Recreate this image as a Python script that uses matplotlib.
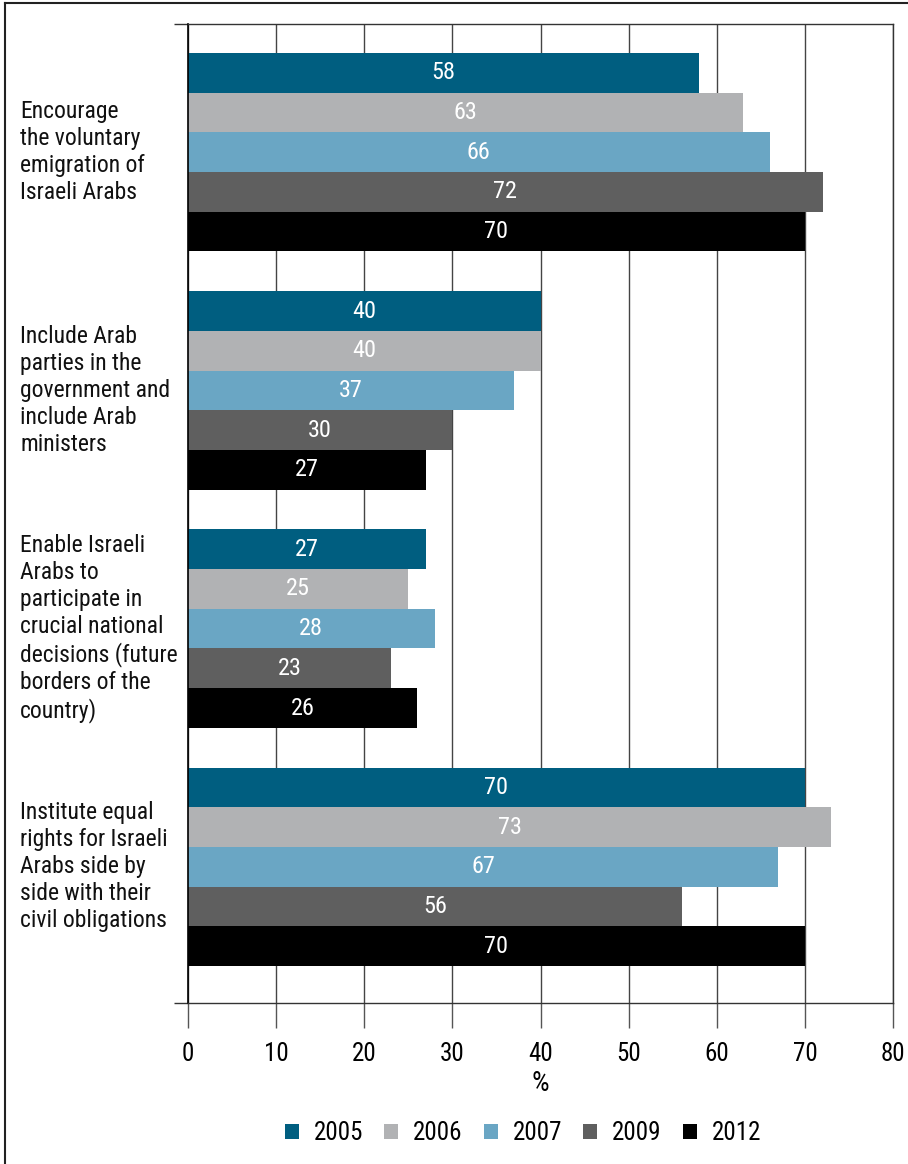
import matplotlib
matplotlib.use("Agg")
import matplotlib.pyplot as plt
import matplotlib.transforms as mtransforms
from matplotlib.lines import Line2D
from matplotlib.patches import Patch

plt.rcParams["font.family"] = ["Roboto Condensed", "Liberation Sans Narrow",
                               "Liberation Sans", "DejaVu Sans"]
plt.rcParams["font.stretch"] = "condensed"

# Data
categories = [
    "Encourage\nthe voluntary\nemigration of\nIsraeli Arabs",
    "Include Arab\nparties in the\ngovernment and\ninclude Arab\nministers",
    "Enable Israeli\nArabs to\nparticipate in\ncrucial national\ndecisions (future\nborders of the\ncountry)",
    "Institute equal\nrights for Israeli\nArabs side by\nside with their\ncivil obligations",
]
years = ["2005", "2006", "2007", "2009", "2012"]
v2005 = [58, 40, 27, 70]
v2006 = [63, 40, 25, 73]
v2007 = [66, 37, 28, 67]
v2009 = [72, 30, 23, 56]
v2012 = [70, 27, 26, 70]
series = [v2005, v2006, v2007, v2009, v2012]
colors = ["#005e80", "#b1b2b4", "#6aa6c4", "#5f5f5f", "#000000"]

W, H = 908, 1164
fig = plt.figure(figsize=(W / 100, H / 100), dpi=100)
ax = fig.add_axes([188 / W, 1 - 1003 / H, (893 - 188) / W, (1003 - 24) / H])

group_step = len(years) + 1
for s, (vals, col) in enumerate(zip(series, colors)):
    ys = [g * group_step + s + 0.5 for g in range(len(categories))]
    ax.barh(ys, vals, height=1.0, color=col, zorder=2)
    for y, v in zip(ys, vals):
        ax.text(v / 2, y, str(v), ha="center", va="center",
                color="white", fontsize=17.5, zorder=3)

n_end = (len(categories) - 1) * group_step + len(years)
ax.set_ylim(n_end + 0.93, -0.73)
ax.set_xlim(0, 80)
ax.set_xticks(range(0, 81, 10))
ax.set_yticks([n_end + 0.93, -0.73])
ax.set_yticklabels([])
ax.tick_params(axis="y", length=10, width=1, color="#333333")
ax.tick_params(axis="x", length=18, width=1, color="#555555",
               labelsize=18, pad=10)
ax.grid(axis="x", color="#444444", linewidth=1, zorder=0)
ax.set_axisbelow(True)
for side in ["top", "bottom", "right"]:
    ax.spines[side].set_color("#333333")
    ax.spines[side].set_linewidth(1)
ax.spines["left"].set_color("black")
ax.spines["left"].set_linewidth(1.2)

ax.set_xlabel("%", fontsize=20, labelpad=3)

# group labels on the left
trans = mtransforms.blended_transform_factory(fig.transFigure, ax.transData)
for g, label in enumerate(categories):
    yc = g * group_step + len(years) / 2
    ax.text(20 / W, yc, label, transform=trans, ha="left", va="center",
            fontsize=17, linespacing=1.22, color="#111111")

# legend
handles = [Patch(facecolor=c, edgecolor="none") for c in colors]
fig.legend(handles, years, loc="center", bbox_to_anchor=(523 / W, 1 - 1133 / H),
           ncol=5, frameon=False, fontsize=18, handlelength=0.55,
           handleheight=0.55, handletextpad=0.6, columnspacing=0.85)

# frame lines on top and left
fig.add_artist(Line2D([5 / W, 1], [1 - 3 / H, 1 - 3 / H], color="#222222", lw=1.5))
fig.add_artist(Line2D([5 / W, 5 / W], [0, 1 - 3 / H], color="#222222", lw=1.5))

fig.savefig("out.png", dpi=100)
